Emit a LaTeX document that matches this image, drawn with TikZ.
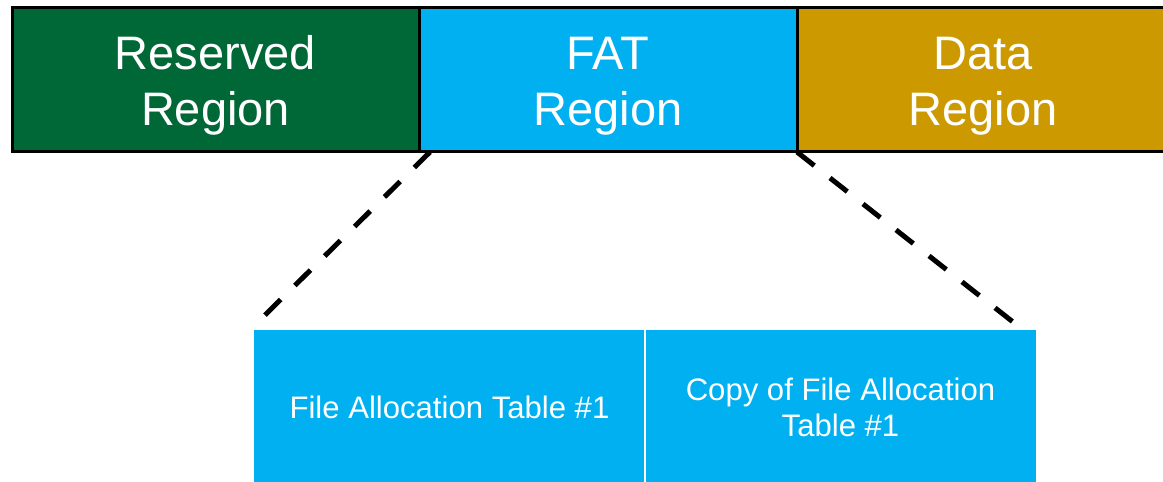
\documentclass[tikz,border=0pt]{standalone}
\usepackage{fontspec}
\setmainfont{Liberation Sans}
\usepackage{tikz}
\usetikzlibrary{positioning}

\definecolor{resgreen}{RGB}{0,104,55}
\definecolor{fatblue}{RGB}{0,176,240}
\definecolor{datagold}{RGB}{204,153,0}

% a little extra room above the first line of the top labels
\newcommand{\toppad}{\rule{0pt}{44pt}}

\tikzset{
    regionbox/.style={draw=black, line width=3pt, text=white, align=center,
        minimum height=144pt, outer sep=0pt, inner sep=0pt,
        font=\fontsize{47}{56}\selectfont},
    tablebox/.style={fill=fatblue, text=white, align=center,
        minimum width=391pt, minimum height=154pt, outer sep=0pt, inner sep=0pt,
        font=\fontsize{31.1}{36}\selectfont},
    zoomline/.style={line width=5pt, dash pattern=on 22pt off 20pt}
}

\begin{document}
\begin{tikzpicture}[x=1pt, y=1pt]
        \useasboundingbox (0,0) rectangle (1163,482);
        \node[regionbox, fill=resgreen, minimum width=407pt] (reserved) at (215.5,402) {\toppad Reserved\\Region};
        \node[regionbox, fill=fatblue, minimum width=378pt, right=0pt of reserved] (fat) {\toppad FAT\\Region};
        \node[regionbox, fill=datagold, minimum width=372pt, right=0pt of fat] (data) {\toppad Data\\Region};
        \node[tablebox] (fatone) at (449.5,75) {File Allocation Table \#1};
        \node[tablebox, right=0pt of fatone] (fattwo) {Copy of File Allocation\\Table \#1};
        \draw[white, line width=1.5pt] (fatone.north east) -- (fatone.south east);
        \draw[zoomline] ([xshift=11pt]fat.south west) -- ([shift={(8,12)}]fatone.north west);
        \draw[zoomline] (fat.south east) -- ([shift={(-23,8)}]fattwo.north east);
    \end{tikzpicture}
\end{document}
